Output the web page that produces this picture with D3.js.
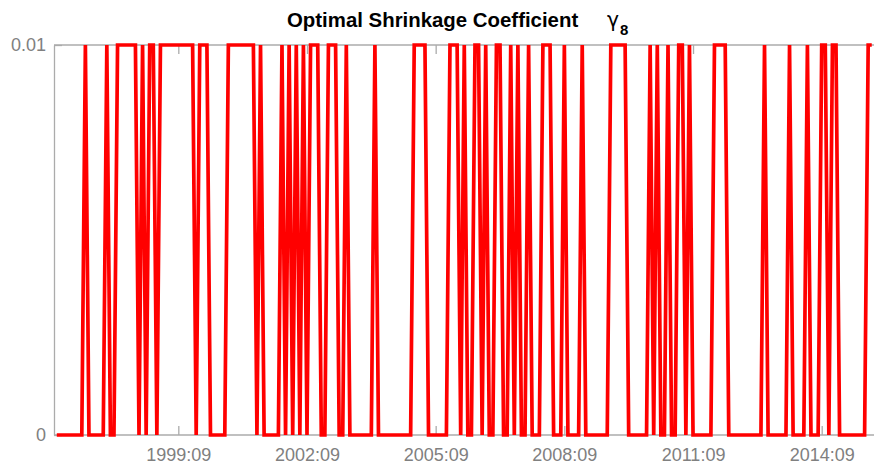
<!DOCTYPE html>
<html><head><meta charset="utf-8">
<script src="https://cdn.jsdelivr.net/npm/d3@7"></script>
<style>body{margin:0;background:#fff} svg{display:block}</style>
</head><body><div id="chart"></div>
<script>
// Monthly series, first month 1996:11, one row per 12 months
const startMonth = "1996:11";
const shrinkage = [
  0,0,0,0,0,0,0,0,0.01,0,0,0,
  0,0,0.01,0,0,0.01,0.01,0.01,0.01,0.01,0.01,0,
  0.01,0,0.01,0.01,0,0.01,0.01,0.01,0.01,0.01,0.01,0.01,
  0.01,0.01,0.01,0,0.01,0.01,0.01,0,0,0,0,0,
  0.01,0.01,0.01,0.01,0.01,0.01,0.01,0.01,0,0.01,0,0,
  0,0,0,0.01,0,0.01,0,0.01,0,0.01,0,0.01,
  0.01,0.01,0,0,0.01,0.01,0.01,0,0,0.01,0,0,
  0,0,0,0,0,0.01,0,0,0,0,0,0,
  0,0,0,0,0.01,0.01,0.01,0.01,0,0,0,0,
  0,0,0.01,0.01,0.01,0,0.01,0,0,0.01,0.01,0,
  0.01,0,0,0.01,0.01,0,0,0.01,0,0.01,0,0,
  0.01,0,0,0,0.01,0.01,0.01,0,0,0,0.01,0,
  0,0,0,0.01,0,0,0,0,0,0,0,0.01,
  0.01,0.01,0.01,0.01,0,0,0,0,0,0,0.01,0,
  0.01,0,0,0.01,0,0,0.01,0.01,0,0.01,0,0,
  0,0,0,0,0.01,0.01,0.01,0.01,0,0,0,0,
  0,0,0,0,0,0,0.01,0,0,0,0,0,
  0,0.01,0,0,0,0,0.01,0,0,0,0.01,0.01,
  0,0.01,0.01,0,0,0,0,0,0,0,0,0.01,
  0.01
];
const xTickLabels = ["1999:09","2002:09","2005:09","2008:09","2011:09","2014:09"];
const yTickValues = [0, 0.01];
const yTickLabels = ["0", "0.01"];
const titleText = "Optimal Shrinkage Coefficient";
const titleSymbol = "\u03B3";
const titleSub = "8";

const W = 874, H = 470;
const L = 54, R = 873, T = 45, B = 435;
const gray = "#ababab", labelGray = "#808080";
const font = "'Liberation Sans', Arial, Helvetica, sans-serif";

function monthIndex(lbl){
  const [y,m] = lbl.split(":").map(Number);
  const [y0,m0] = startMonth.split(":").map(Number);
  return (y-y0)*12 + (m-m0);
}

const svg = d3.select("#chart").append("svg").attr("width", W).attr("height", H);

const x = d3.scaleLinear().domain([-0.78, 228.35]).range([L, R]);
const y = d3.scaleLinear().domain([0, 0.01]).range([B, T]);

const xTicks = xTickLabels.map(monthIndex);

const gB = svg.append("g").attr("transform", `translate(0,${B})`)
  .call(d3.axisBottom(x).tickValues(xTicks).tickFormat((d,i)=>xTickLabels[i])
        .tickSizeInner(-9).tickSizeOuter(0).tickPadding(13));
const gT = svg.append("g").attr("transform", `translate(0,${T})`)
  .call(d3.axisTop(x).tickValues(xTicks).tickFormat("")
        .tickSizeInner(-9).tickSizeOuter(0));
const gL = svg.append("g").attr("transform", `translate(${L},0)`)
  .call(d3.axisLeft(y).tickValues(yTickValues).tickFormat((d,i)=>yTickLabels[i])
        .tickSizeInner(-8).tickSizeOuter(0).tickPadding(8));

[gB,gT,gL].forEach(g=>{
  g.select(".domain").attr("stroke", gray).attr("stroke-width", 1.3);
  g.selectAll(".tick line").attr("stroke", gray).attr("stroke-width", 1.3);
  g.selectAll(".tick text").attr("fill", labelGray).style("font-family", font).style("font-size", "18px");
});
gB.select(".domain").attr("d", `M${L},0H${W}`);
gT.select(".domain").attr("d", `M${L},0H${W}`);

const line = d3.line().x((d,i)=>x(i)).y(d=>y(d));
svg.append("path").datum(shrinkage)
  .attr("d", line).attr("fill", "none")
  .attr("stroke", "#ff0000").attr("stroke-width", 3.7)
  .attr("stroke-linejoin", "miter");

const t = svg.append("text").attr("x", 287).attr("y", 27)
  .style("font-family", font).style("font-size", "20.4px").style("font-weight", "bold").attr("fill", "#000");
t.append("tspan").text(titleText);
t.append("tspan").attr("x", 607).style("font-weight", "normal").style("font-family", "'DejaVu Sans', sans-serif").text(titleSymbol);
t.append("tspan").attr("x", 620).attr("dy", 8).style("font-size", "15px").text(titleSub);
</script>
</body></html>
